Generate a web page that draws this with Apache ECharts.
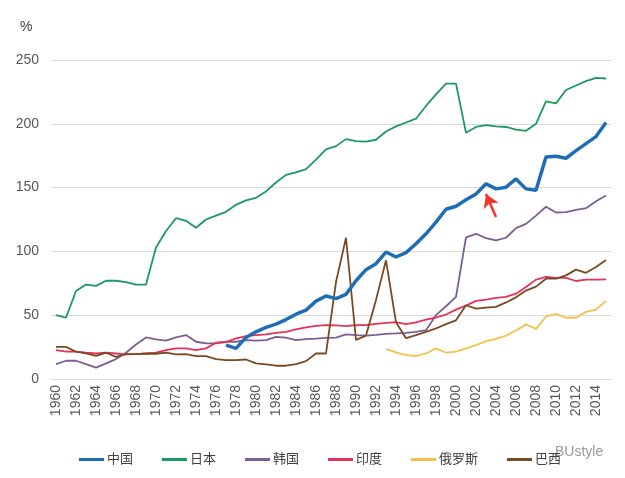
<!DOCTYPE html>
<html>
<head>
<meta charset="utf-8">
<script src="https://cdn.jsdelivr.net/npm/echarts@6/dist/echarts.min.js"></script>
<style>html,body{margin:0;padding:0;background:#fff}#c{width:625px;height:478px}</style>
</head>
<body>
<div id="c"></div>
<script>
var years = [];
for (var y = 1960; y <= 2015; y++) years.push(String(y));

var seriesNames = ['中国', '日本', '韩国', '印度', '俄罗斯', '巴西'];

var china = [null,null,null,null,null,null,null,null,null,null,
  null,null,null,null,null,null,null,26.6,24,32.6,
  37,40.4,43,46.6,50.8,54,61,65,63,66.4,
  77,85.7,90.4,99.5,95.6,99,106,113.8,123,133,
  135.4,140.4,145,153,149,150.3,156.8,149,148,174,
  174.5,173,179,184.5,190,201];

var japan = [50,48,69,74,73,77,77,76,74,74,
  103,116,126,124,118.5,125,128,131,136.5,140,
  142,147,154,160,162,164.5,172,180,182.5,188,
  186.5,186,187.5,194,198,201,204,214,223,231.5,
  231.5,193,197.5,199,198,197.5,195.5,194.5,200,217.5,
  216,226.5,230,233.5,236,235.5];

var korea = [11.7,14.3,14.3,11.7,8.9,12.2,15.6,20.6,27,32.6,
  31,30,32.6,34.4,29.2,27.9,27.9,29.2,29.2,30.5,
  30,30.5,33,32.5,30.5,31.2,31.6,32.3,32.5,34.9,
  34.4,34,34.6,35.4,35.7,36.2,37,38.3,50,57,
  64.3,111,113.8,110.4,108.6,110.7,118.2,121.6,128,135,
  130.5,130.8,132.6,133.9,139.3,143.8];

var india = [22.7,21.4,21.4,20.6,20,20.6,20,19.3,19.5,20,
  20.6,22.7,24,24,22.7,24,28.4,29,31.8,33.6,
  34.4,34.9,36.2,37,38.8,40.4,41.7,42.2,42,41.4,
  42.2,42.2,43.2,44,44.5,43,44.3,46.6,48.2,50.5,
  54.4,57.5,61.2,62.2,63.5,64.3,66.9,72.1,77.9,80,
  79.2,79.2,76.8,77.9,77.9,78.1];

var russia = [null,null,null,null,null,null,null,null,null,null,
  null,null,null,null,null,null,null,null,null,null,
  null,null,null,null,null,null,null,null,null,null,
  null,null,null,23.4,20.8,18.8,18,20,24,20.6,
  21.4,24,26.6,29.7,31.4,34,38,42.8,39.3,49,
  51,48,48,52.6,54.4,61.2];

var brazil = [25.2,25.2,21.4,20,18.2,20.6,17.4,19.5,19.5,20,
  19.8,20.6,19.3,19.5,18,18,15.6,14.8,14.8,15.3,
  12.2,11.5,10.4,10.4,11.7,14,20,20,76,110.7,
  30.7,34,62,93,44.4,32,34.4,37,39.6,43,
  46,57.8,55.2,56,56.5,60,64,69.3,72.4,78.6,
  78.6,81.2,85.7,83.2,87.8,93.3];

var yTicks = [0, 50, 100, 150, 200, 250];

var colors = ['#1F6DB5', '#1E9960', '#7B5E94', '#E6325A', '#F5C14E', '#7A4A22'];
var dataSets = [china, japan, korea, india, russia, brazil];
var widths = [3.5, 1.8, 1.8, 1.8, 1.8, 1.8];

var FONT = '"Liberation Sans", Arial, "Noto Sans CJK SC", sans-serif';

var series = seriesNames.map(function (n, i) {
  var s = {
    name: n, type: 'line', data: dataSets[i],
    showSymbol: false, symbol: 'none',
    connectNulls: false,
    lineStyle: { width: widths[i], color: colors[i] },
    itemStyle: { color: colors[i] },
    z: i === 0 ? 10 : 3
  };
  if (i === 0) {
    s.markLine = {
      silent: true,
      symbol: ['none', 'arrow'],
      symbolSize: [12, 13],
      label: { show: false },
      lineStyle: { color: '#F0382B', width: 2.5, type: 'solid' },
      data: [[{ coord: ['2004', 127] }, { coord: ['2003', 145] }]]
    };
  }
  return s;
});

var chart = echarts.init(document.getElementById('c'), null, { renderer: 'canvas' });
chart.setOption({
  animation: false,
  backgroundColor: '#ffffff',
  textStyle: { fontFamily: FONT },
  title: {
    text: '%', left: 15, top: 15,
    textStyle: { fontSize: 14, fontWeight: 'normal', color: '#404040', fontFamily: FONT }
  },
  grid: { left: 51, right: 14, top: 60, bottom: 99, containLabel: false },
  legend: {
    bottom: 7, left: 74,
    itemWidth: 25, itemHeight: 3, itemGap: 29,
    icon: 'rect',
    textStyle: { fontSize: 13, color: '#404040', fontFamily: FONT, padding: [0, 0, 0, -2] },
    data: seriesNames
  },
  xAxis: {
    type: 'category', data: years, boundaryGap: true,
    axisLine: { show: true, lineStyle: { color: '#d9d9d9' } },
    axisTick: { show: false },
    axisLabel: { interval: 1, rotate: 90, fontSize: 14, color: '#595959', margin: 6, fontFamily: FONT },
    splitLine: { show: false }
  },
  yAxis: {
    type: 'value', min: yTicks[0], max: yTicks[yTicks.length - 1], interval: 50,
    axisLine: { show: false }, axisTick: { show: false },
    axisLabel: { fontSize: 14, color: '#595959', margin: 12, fontFamily: FONT },
    splitLine: { lineStyle: { color: '#d9d9d9', width: 1 } }
  },
  graphic: [{
    type: 'text', left: 555, top: 445,
    style: { text: 'BUstyle', fontSize: 14, fill: '#9a9a9a', fontFamily: FONT }
  }],
  series: series
});
</script>
</body>
</html>
